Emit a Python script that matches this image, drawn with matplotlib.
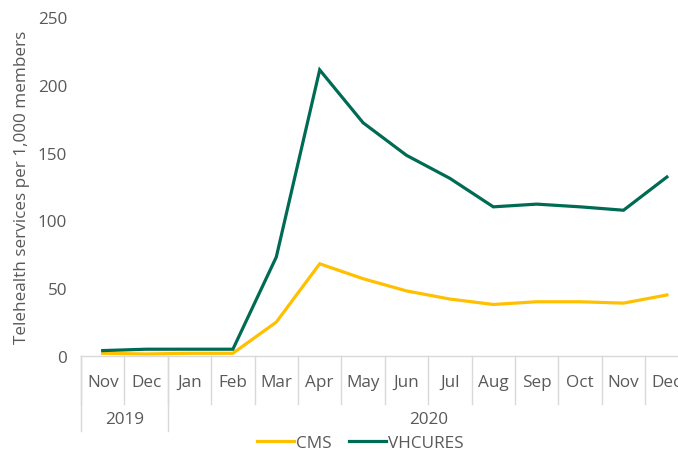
import matplotlib
matplotlib.use("Agg")
import matplotlib.pyplot as plt
import matplotlib.transforms as mtransforms

# months of the two years shown
months = ["Nov", "Dec", "Jan", "Feb", "Mar", "Apr", "May",
          "Jun", "Jul", "Aug", "Sep", "Oct", "Nov", "Dec"]
years = ["2019", "2020"]
year_sizes = [2, 12]

cms = [2, 1.5, 2, 2, 25, 68, 57, 48, 42, 38, 40, 40, 39, 45]
vhcures = [4, 5, 5, 5, 73, 211, 172, 148, 131, 110, 112, 110, 107.5, 132]

yticks = [0, 50, 100, 150, 200, 250]

grey = "#595959"
lgrey = "#D9D9D9"
fs = 12.3
plt.rcParams["font.family"] = ["Open Sans", "DejaVu Sans"]

fig = plt.figure(figsize=(6.78, 4.56), dpi=100)
ax = fig.add_axes([81 / 678, 99 / 456, 607.6 / 678, 339 / 456])

x = list(range(len(months)))
ax.plot(x, cms, color="#FFC000", lw=2.3, label="CMS", solid_joinstyle="miter")
ax.plot(x, vhcures, color="#006B54", lw=2.3, label="VHCURES", solid_joinstyle="miter")

ax.set_xlim(-0.5, len(months) - 0.5)
ax.set_ylim(0, 250)
ax.set_yticks(yticks)
ax.set_yticklabels([str(t) for t in yticks], fontsize=fs, color=grey)
ax.tick_params(axis="y", length=0, pad=10)
ax.set_xticks([])
for s in ["left", "right", "top"]:
    ax.spines[s].set_visible(False)
ax.spines["bottom"].set_color(lgrey)
ax.spines["bottom"].set_linewidth(1)

ax.set_ylabel("Telehealth services per 1,000 members", fontsize=fs, color=grey, labelpad=6)

# two-level category axis
tr = mtransforms.blended_transform_factory(ax.transData, ax.transAxes)
for i, m in enumerate(months):
    ax.text(i, -0.077, m, transform=tr, ha="center", va="center", fontsize=fs, color=grey)
for i in range(len(months) + 1):
    ax.plot([i - 0.5, i - 0.5], [0, -0.1416], transform=tr, color=lgrey, lw=1, clip_on=False)
start = 0
for y, n in zip(years, year_sizes):
    ax.text(start + n / 2 - 0.5, -0.186, y, transform=tr, ha="center", va="center",
            fontsize=fs, color=grey)
    ax.plot([start - 0.5, start - 0.5], [0, -0.221], transform=tr, color=lgrey, lw=1, clip_on=False)
    start += n
ax.plot([start - 0.5, start - 0.5], [0, -0.221], transform=tr, color=lgrey, lw=1, clip_on=False)

leg = fig.legend(loc="center", bbox_to_anchor=(0.531, 0.026), ncol=2, frameon=False,
                 fontsize=fs, handlelength=2.2, handletextpad=0.1, columnspacing=1.0)
for t in leg.get_texts():
    t.set_color(grey)

fig.savefig("out.png", dpi=100)
